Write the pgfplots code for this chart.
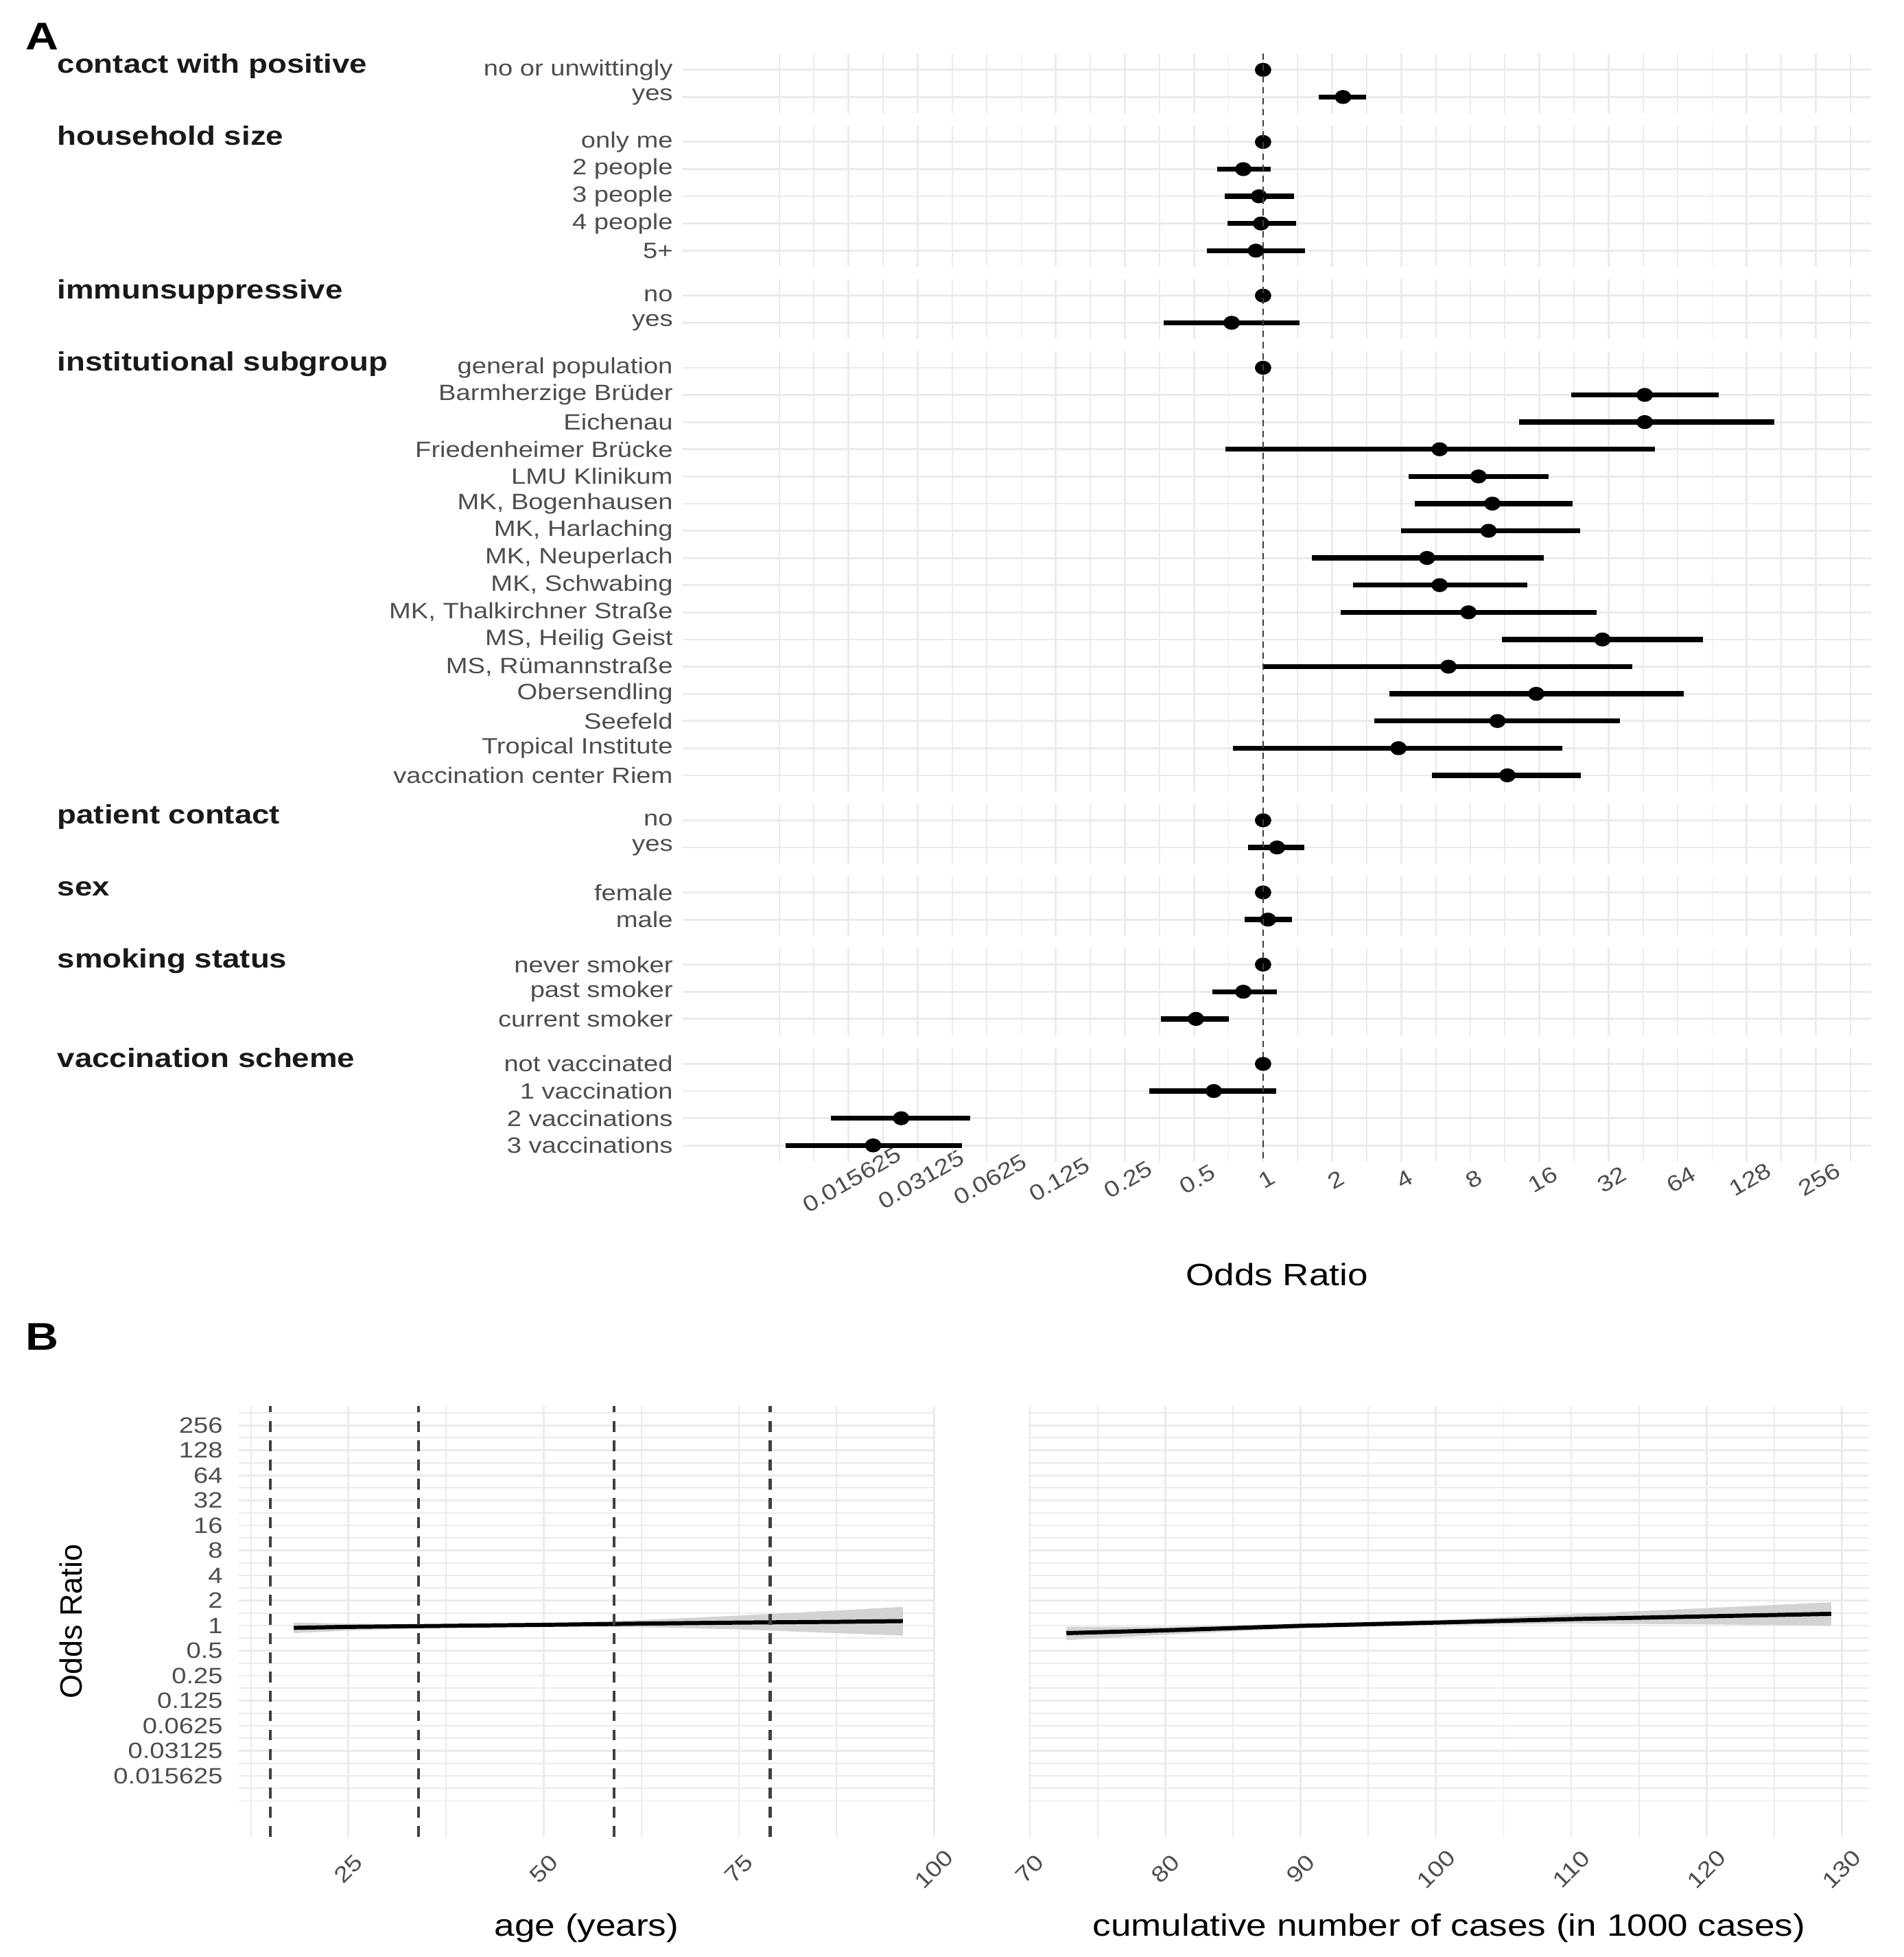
\documentclass[border=0pt]{standalone}
\usepackage{fontspec}
\setmainfont{Liberation Sans}[FakeStretch=1.18]
\newfontfamily\plainsans{Liberation Sans}
\usepackage{pgfplots}
\pgfplotsset{compat=1.18}

\definecolor{gridc}{HTML}{EBEBEB}
\definecolor{labc}{HTML}{4D4D4D}
\definecolor{bandc}{HTML}{D3D3D3}
\definecolor{vline}{HTML}{404040}

\newcommand{\lab}{\fontsize{9.2}{11}\selectfont}
\newcommand{\ttl}{\fontsize{12.8}{15}\selectfont}

% one confidence interval: lower, upper, row
\newcommand{\ci}[3]{\addplot[orci] coordinates {(#1,#3) (#2,#3)};}

\pgfplotsset{
  orbase/.style={
    scale only axis, clip=false,
    axis line style={draw=none},
    major tick length=0pt, minor tick length=0pt,
    major grid style={line width=0.8pt, gridc},
    minor grid style={line width=0.5pt, gridc},
    tick label style={font=\lab, text=labc},
  },
  orA/.style={
    orbase, width=17.32cm,
    log basis x=2,
    xmin=0.0029604, xmax=445.7,
    xtick={0.015625,0.03125,0.0625,0.125,0.25,0.5,1,2,4,8,16,32,64,128,256},
    extra x ticks={0.0078125,0.011049,0.022097,0.044194,0.088388,0.176777,0.353553,0.707107,1.414214,2.828427,5.656854,11.313708,22.627417,45.254834,90.509668,181.019336,362.038672},
    extra x tick labels={},
    extra x tick style={xmajorgrids=true, major grid style={line width=0.5pt, gridc},
      xticklabel style={inner sep=0pt}},
    xticklabels={}, xticklabel style={inner sep=0pt},
    xmajorgrids, ymajorgrids,
    y dir=reverse, ymin=0.4,
    yticklabel style={xshift=-0.02cm},
  },
  orB/.style={
    orbase, height=6.28cm,
    log basis y=2,
    ymin=0.0028794, ymax=436.55,
    ytick={0.015625,0.03125,0.0625,0.125,0.25,0.5,1,2,4,8,16,32,64,128,256},
    extra y ticks={0.0078125,0.011049,0.022097,0.044194,0.088388,0.176777,0.353553,0.707107,1.414214,2.828427,5.656854,11.313708,22.627417,45.254834,90.509668,181.019336,362.038672},
    extra y tick labels={},
    extra y tick style={ymajorgrids=true, major grid style={line width=0.5pt, gridc},
      yticklabel style={inner sep=0pt}},
    xmajorgrids, xminorgrids, ymajorgrids,
    xticklabel style={yshift=-0.47cm, rotate=45, anchor=center},
    yticklabel style={xshift=-0.11cm},
  },
  orci/.style={black, line width=2.1pt, no marks},
  orpt/.style={only marks, black, mark=*, mark size=2.7pt, mark options={xscale=1.18, fill=black, draw=black}},
}
\tikzset{orstrip/.style={anchor=north west, inner sep=0pt, font=\fontsize{11}{13}\selectfont\bfseries, text=black!90}}
\newcommand{\sv}{\vphantom{h}}

\begin{document}
\begin{tikzpicture}
\path[use as bounding box] (0,0) rectangle (27.75,-28.52);

\node[anchor=north west, inner sep=0pt, font=\fontsize{16}{18}\selectfont\bfseries] at (0.365,-0.33) {A};
\node[anchor=north west, inner sep=0pt, font=\fontsize{16}{18}\selectfont\bfseries] at (0.365,-19.28) {B};

% ---------- panel A ----------
\begin{semilogxaxis}[orA, at={(9.95cm,-0.78cm)}, anchor=north west, height=0.8712cm,
  ymax=2.6, ytick={1,2}, yticklabels={no or unwittingly, yes}]
  \ci{1.75}{2.82}{2}
  \addplot[orpt] coordinates {(1,1) (2.23,2)};
\end{semilogxaxis}

\begin{semilogxaxis}[orA, at={(9.95cm,-1.8312cm)}, anchor=north west, height=2.0592cm,
  ymax=5.6, ytick={1,...,5}, yticklabels={only me, 2 people, 3 people, 4 people, 5+}]
  \ci{0.63}{1.08}{2}
  \ci{0.68}{1.36}{3}
  \ci{0.70}{1.39}{4}
  \ci{0.57}{1.52}{5}
  \addplot[orpt] coordinates {(1,1) (0.82,2) (0.96,3) (0.98,4) (0.93,5)};
\end{semilogxaxis}

\begin{semilogxaxis}[orA, at={(9.95cm,-4.0704cm)}, anchor=north west, height=0.8712cm,
  ymax=2.6, ytick={1,2}, yticklabels={no, yes}]
  \ci{0.37}{1.44}{2}
  \addplot[orpt] coordinates {(1,1) (0.73,2)};
\end{semilogxaxis}

\begin{semilogxaxis}[orA, at={(9.95cm,-5.1216cm)}, anchor=north west, height=6.4152cm,
  ymax=16.6, ytick={1,...,16},
  yticklabels={general population, Barmherzige Brüder, Eichenau, Friedenheimer Brücke,
    LMU Klinikum, {MK, Bogenhausen}, {MK, Harlaching}, {MK, Neuperlach}, {MK, Schwabing},
    {MK, Thalkirchner Straße}, {MS, Heilig Geist}, {MS, Rümannstraße}, Obersendling,
    Seefeld, Tropical Institute, vaccination center Riem}]
  \ci{22}{97}{2}
  \ci{13}{169}{3}
  \ci{0.686}{51}{4}
  \ci{4.3}{17.5}{5}
  \ci{4.57}{22.3}{6}
  \ci{3.98}{24}{7}
  \ci{1.63}{16.7}{8}
  \ci{2.47}{14.2}{9}
  \ci{2.18}{28.3}{10}
  \ci{11.0}{82.3}{11}
  \ci{1.01}{40.7}{12}
  \ci{3.56}{68}{13}
  \ci{3.06}{36}{14}
  \ci{0.74}{20.1}{15}
  \ci{5.45}{24.3}{16}
  \addplot[orpt] coordinates {(1,1) (46,2) (46,3) (5.88,4) (8.68,5) (9.98,6) (9.6,7) (5.18,8)
    (5.88,9) (7.85,10) (30.1,11) (6.42,12) (15.5,13) (10.5,14) (3.89,15) (11.6,16)};
\end{semilogxaxis}

\begin{semilogxaxis}[orA, at={(9.95cm,-11.7168cm)}, anchor=north west, height=0.8712cm,
  ymax=2.6, ytick={1,2}, yticklabels={no, yes}]
  \ci{0.86}{1.51}{2}
  \addplot[orpt] coordinates {(1,1) (1.15,2)};
\end{semilogxaxis}

\begin{semilogxaxis}[orA, at={(9.95cm,-12.768cm)}, anchor=north west, height=0.8712cm,
  ymax=2.6, ytick={1,2}, yticklabels={female, male}]
  \ci{0.83}{1.34}{2}
  \addplot[orpt] coordinates {(1,1) (1.05,2)};
\end{semilogxaxis}

\begin{semilogxaxis}[orA, at={(9.95cm,-13.8192cm)}, anchor=north west, height=1.2672cm,
  ymax=3.6, ytick={1,2,3}, yticklabels={never smoker, past smoker, current smoker}]
  \ci{0.60}{1.15}{2}
  \ci{0.36}{0.71}{3}
  \addplot[orpt] coordinates {(1,1) (0.82,2) (0.51,3)};
\end{semilogxaxis}

\begin{semilogxaxis}[orA, at={(9.95cm,-15.2664cm)}, anchor=north west, height=1.6632cm,
  ymax=4.6, ytick={1,...,4},
  yticklabels={not vaccinated, 1 vaccination, 2 vaccinations, 3 vaccinations},
  xticklabels={0.015625,0.03125,0.0625,0.125,0.25,0.5,1,2,4,8,16,32,64,128,256},
  xticklabel style={inner sep=0.333em, yshift=-0.26cm, xshift=0.05cm, rotate=30, anchor=center}]
  \ci{0.32}{1.14}{2}
  \ci{0.0131}{0.053}{3}
  \ci{0.0083}{0.0487}{4}
  \addplot[orpt] coordinates {(1,1) (0.61,2) (0.0265,3) (0.020,4)};
  % reference line at OR = 1, running through all panels of A
  \addplot[vline, line width=0.75pt, dash pattern=on 2.6pt off 2pt] coordinates {(1,-36.182) (1,4.6)};
\end{semilogxaxis}

\node[orstrip] at (0.83,-0.78) {\sv contact with positive};
\node[orstrip] at (0.83,-1.8312) {\sv household size};
\node[orstrip] at (0.83,-4.0704) {\sv immunsuppressive};
\node[orstrip] at (0.83,-5.1216) {\sv institutional subgroup};
\node[orstrip] at (0.83,-11.7168) {\sv patient contact};
\node[orstrip] at (0.83,-12.768) {\sv sex};
\node[orstrip] at (0.83,-13.8192) {\sv smoking status};
\node[orstrip] at (0.83,-15.2664) {\sv vaccination scheme};

\node[font=\ttl] at (18.61,-18.57) {Odds Ratio};

% ---------- panel B ----------
\begin{semilogyaxis}[orB, at={(3.48cm,-20.49cm)}, anchor=north west, width=10.14cm,
  xmin=10.95, xmax=100.05, xtick={25,50,75,100}, xticklabels={25,50,75,100},
  minor xtick={12.5,37.5,62.5,87.5},
  yticklabels={0.015625,0.03125,0.0625,0.125,0.25,0.5,1,2,4,8,16,32,64,128,256}]
  \addplot[fill=bandc, draw=none] coordinates {
    (18,1.087) (25,1.057) (37.5,1.028) (50,1.057) (62.5,1.165) (75,1.320) (87.5,1.516) (96,1.682)
    (96,0.758) (87.5,0.812) (75,0.901) (62.5,0.959) (50,0.986) (37.5,0.953) (25,0.871) (18,0.812)};
  \addplot[black, line width=1.7pt] coordinates {
    (18,0.9395) (25,0.966) (37.5,0.993) (50,1.021) (62.5,1.057) (75,1.087) (87.5,1.110) (96,1.133)};
  \addplot[vline, line width=1.2pt, dash pattern=on 4.5pt off 3.5pt] coordinates {(15,0.0028794) (15,436.55)};
  \addplot[vline, line width=1.2pt, dash pattern=on 4.5pt off 3.5pt] coordinates {(34,0.0028794) (34,436.55)};
  \addplot[vline, line width=1.2pt, dash pattern=on 4.5pt off 3.5pt] coordinates {(59,0.0028794) (59,436.55)};
  \addplot[vline, line width=1.2pt, dash pattern=on 4.5pt off 3.5pt] coordinates {(79,0.0028794) (79,436.55)};
\end{semilogyaxis}

\begin{semilogyaxis}[orB, at={(14.99cm,-20.49cm)}, anchor=north west, width=12.25cm,
  xmin=69.9, xmax=132, xtick={70,80,90,100,110,120,130},
  xticklabels={70,80,90,100,110,120,130},
  minor xtick={75,85,95,105,115,125}, yticklabels={}, yticklabel style={inner sep=0pt}]
  \addplot[fill=bandc, draw=none] coordinates {
    (72.7,0.966) (80,0.966) (90,1.057) (100,1.165) (110,1.366) (120,1.625) (129.2,1.905)
    (129.2,1.0) (120,1.035) (110,1.057) (100,1.021) (90,0.933) (80,0.779) (72.7,0.669)};
  \addplot[black, line width=1.7pt] coordinates {
    (72.7,0.812) (80,0.877) (90,0.993) (100,1.087) (110,1.197) (120,1.292) (129.2,1.385)};
\end{semilogyaxis}

\node[font=\plainsans\fontsize{12.8}{15}\selectfont, rotate=90] at (1.03,-23.63) {Odds Ratio};
\node[font=\ttl] at (8.55,-28.10) {age (years)};
\node[font=\ttl] at (21.12,-28.10) {cumulative number of cases (in 1000 cases)};
\end{tikzpicture}
\end{document}
